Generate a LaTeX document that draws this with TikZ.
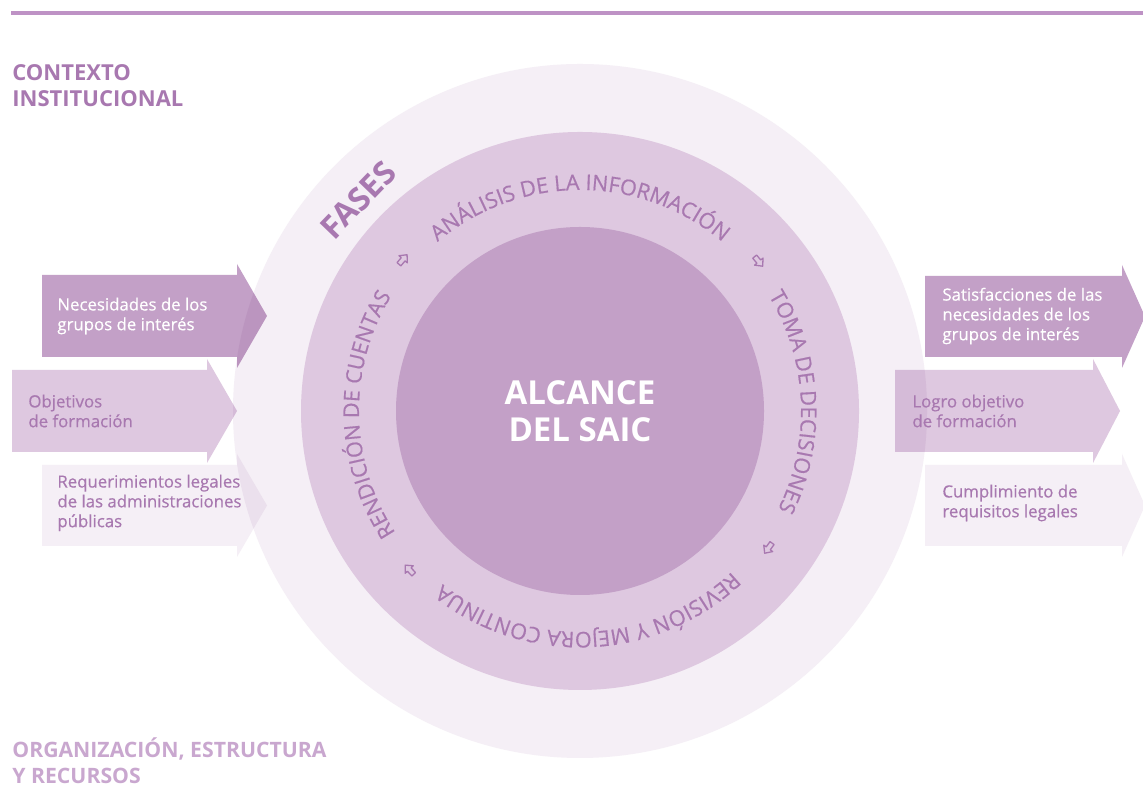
\documentclass[tikz,border=0pt]{standalone}
\usepackage{fontspec}
\setmainfont{Open Sans}
\newfontfamily\semifont[FakeBold=0.5]{Open Sans}
\usetikzlibrary{decorations.text}

\definecolor{lila}{HTML}{C3A0C7}
\definecolor{lilaclaro}{HTML}{DEC8E0}
\definecolor{lilapalido}{HTML}{F5EFF6}
\definecolor{morado}{HTML}{A878B0}
\definecolor{moradosuave}{HTML}{C9A7CF}
\definecolor{linea}{HTML}{BE92C5}

\newcommand{\fasefont}{\semifont\fontsize{10.8}{12}\selectfont}
% estilo, x inicio, x base de punta, x punta, y arriba, y abajo
\newcommand{\flecha}[6]{%
  \fill[#1] (#2,#5) -- (#3,#5) -- (#3,#5+11) -- (#4,{(#5+#6)/2}) -- (#3,#6-11) -- (#3,#6) -- (#2,#6) -- cycle;}

\begin{document}
\begin{tikzpicture}[
    x=0.5pt, y=0.5pt,
    titulo/.style={font=\bfseries\fontsize{11}{13}\selectfont, align=left, anchor=west, inner sep=0pt},
    rotulo/.style={font=\semifont\fontsize{8.4}{9.9}\selectfont, align=left, anchor=west, inner sep=0pt},
    fase/.style={decorate, decoration={text along path, text align=center, text={|\fasefont\color{morado}|#1}}},
    ciclo/.style={draw=morado, line width=0.65pt, line join=round},
]
    \useasboundingbox (0,0) rectangle (1143,806);
    \clip (0,0) rectangle (1143,806);
    \fill[white] (0,0) rectangle (1143,806);
    \draw[linea, line width=2pt] (11,793) -- (1143,793);

    % circulos
    \coordinate (c) at (580,395);
    \fill[lilapalido] (c) circle[radius=347];
    \fill[lilaclaro] (c) circle[radius=279];
    \fill[lila] (c) circle[radius=184];

    % flechas de entrada y salida
    \begin{scope}[blend mode=multiply]
        \flecha{lila}{42}{237}{267}{531}{449}
        \flecha{lilaclaro}{12}{207}{237}{436}{354}
        \flecha{lilapalido}{42}{237}{267}{341}{260}
        \flecha{lila}{925}{1122}{1145}{530}{449}
        \flecha{lilaclaro}{895}{1093}{1120}{436}{354}
        \flecha{lilapalido}{925}{1122}{1145}{341}{260}
    \end{scope}

    \node[rotulo, text=white] (necesidades) at (57,490) {Necesidades de los\\grupos de interés};
    \node[rotulo, text=morado] (objetivos) at (28,395) {Objetivos\\de formación};
    \node[rotulo, text=morado] (requerimientos) at (57,303) {Requerimientos legales\\de las administraciones\\públicas};
    \node[rotulo, text=white] (satisfacciones) at (942,490) {Satisfacciones de las\\necesidades de los\\grupos de interés};
    \node[rotulo, text=morado] (logro) at (912,395) {Logro objetivo\\de formación};
    \node[rotulo, text=morado] (cumplimiento) at (942,303) {Cumplimiento de\\requisitos legales};

    % fases del ciclo
    \path[fase={ANÁLISIS DE LA INFORMACIÓN}, shift={(c)}] (150:221) arc[start angle=150, end angle=30, radius=221];
    \path[fase={TOMA DE DECISIONES}, shift={(c)}] (62.5:221) arc[start angle=62.5, end angle=-57.5, radius=221];
    \path[fase={REVISIÓN Y MEJORA CONTINUA}, shift={(c)}] (-27.5:221) arc[start angle=-27.5, end angle=-147.5, radius=221];
    \path[fase={RENDICIÓN DE CUENTAS}, shift={(c)}] (-119:221) arc[start angle=-119, end angle=-239, radius=221];
    \foreach \ang in {139.5, 40, -36, -137}
        \draw[ciclo, shift={(c)}, rotate=\ang, shift={(233,0)}, rotate=-90]
            (-6,-2.5) -- (0.5,-2.5) -- (0.5,-5.5) -- (6.5,0) -- (0.5,5.5) -- (0.5,2.5) -- (-6,2.5) -- cycle;

    \node[rotate=46, text=morado, font=\bfseries\fontsize{16}{18}\selectfont] (fases) at (358,606) {FASES};
    \node[text=white, font=\bfseries\fontsize{16.5}{18.5}\selectfont, align=center] (alcance) at (c) {ALCANCE\\DEL SAIC};

    \node[titulo, text=morado] (contexto) at (12,720) {CONTEXTO\\INSTITUCIONAL};
    \node[titulo, text=moradosuave, font=\bfseries\fontsize{10.6}{13}\selectfont] (organizacion) at (12,45) {ORGANIZACIÓN, ESTRUCTURA\\Y RECURSOS};
\end{tikzpicture}
\end{document}
